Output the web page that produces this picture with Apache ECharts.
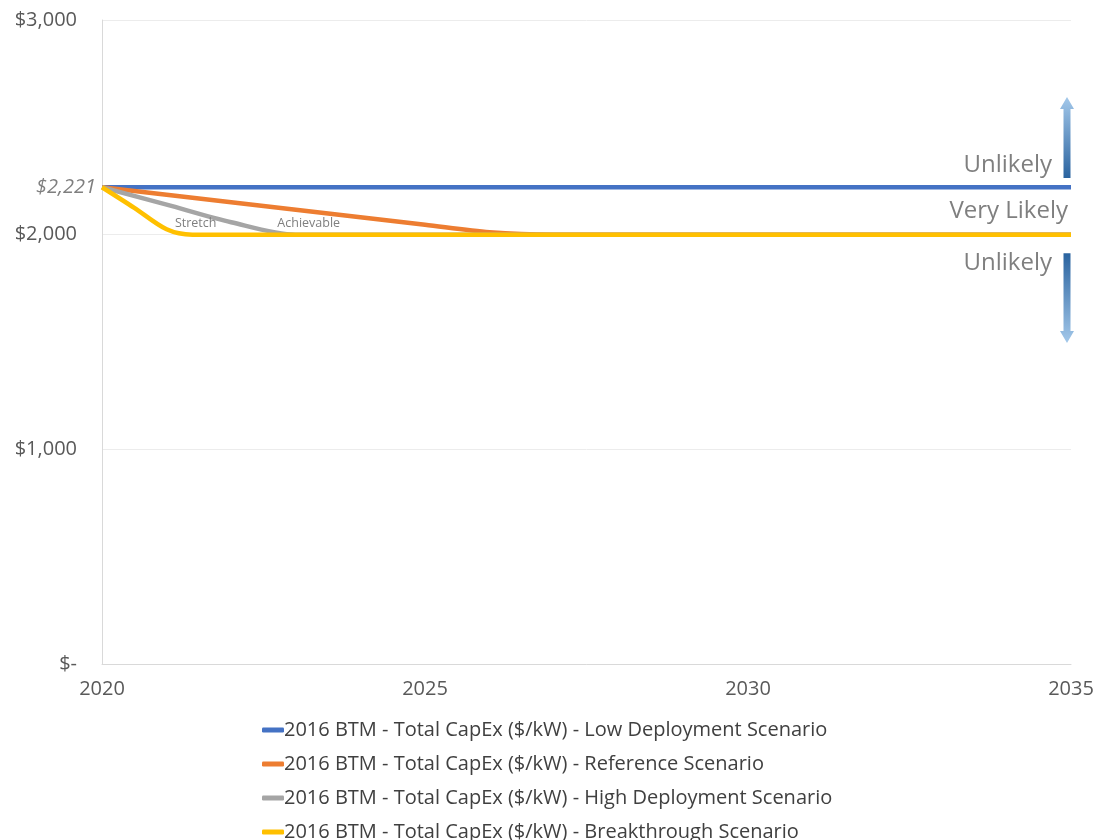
<!DOCTYPE html>
<html lang="en">
<head>
    <meta charset="UTF-8">
    <title>BTM Total CapEx</title>
    <script src="https://cdn.jsdelivr.net/npm/echarts@6/dist/echarts.min.js"></script>
    <style>
        html, body { margin: 0; padding: 0; background: #fff; }
        #chart { width: 1097px; height: 840px; }
    </style>
</head>
<body>
<div id="chart"></div>
<script>
    // 数据：年份与各情景的 CapEx ($/kW)
    var seriesNames = [
        '2016 BTM - Total CapEx ($/kW) - Low Deployment Scenario',
        '2016 BTM - Total CapEx ($/kW) - Reference Scenario',
        '2016 BTM - Total CapEx ($/kW) - High Deployment Scenario',
        '2016 BTM - Total CapEx ($/kW) - Breakthrough Scenario'
    ];
    var colors = ['#4472C4', '#ED7D31', '#A5A5A5', '#FFC000'];

    var lowYears = [2020, 2035];
    var lowValues = [2221, 2221];

    var refYears = [2020, 2021, 2022, 2023, 2024, 2025, 2026, 2027, 2035];
    var refValues = [2221, 2186, 2151, 2116, 2081, 2046, 2011, 2000, 2000];

    var highYears = [2020, 2021, 2022, 2023, 2035];
    var highValues = [2221, 2140, 2058, 2000, 2000];

    var breakYears = [2020, 2020.5, 2021, 2021.4, 2022, 2035];
    var breakValues = [2221, 2125, 2025, 2000, 2000, 2000];

    var startValue = 2221;
    var xTicks = [2020, 2025, 2030, 2035];

    // 注释
    var curveNotes = [
        { text: 'Stretch', x: 2021.45, y: 2052 },
        { text: 'Achievable', x: 2023.2, y: 2052 }
    ];
    var zoneNotes = [
        { text: 'Unlikely', y: 2324, dx: -19 },
        { text: 'Very Likely', y: 2110, dx: -3 },
        { text: 'Unlikely', y: 1868, dx: -19 }
    ];
    var upArrow = [2264, 2641];   // 从 -> 到
    var downArrow = [1914, 1495];

    function pairs(xs, ys) {
        return xs.map(function (x, i) { return [x, ys[i]]; });
    }

    var chart = echarts.init(document.getElementById('chart'));
    var fontFam = '"Open Sans", "Noto Sans", sans-serif';

    function lineSeries(idx, xs, ys, extra) {
        var s = {
            name: seriesNames[idx],
            type: 'line',
            data: pairs(xs, ys),
            smooth: 0.3,
            showSymbol: false,
            symbol: 'none',
            lineStyle: { width: 4.5, color: colors[idx] },
            itemStyle: { color: colors[idx] },
            z: 2 + idx
        };
        for (var k in extra) s[k] = extra[k];
        return s;
    }

    var options = {
        animation: false,
        textStyle: { fontFamily: fontFam },
        grid: { left: 102, right: 26, top: 20, bottom: 176, containLabel: false },
        legend: {
            orient: 'vertical',
            left: 262,
            top: 719,
            height: 130,
            padding: 0,
            itemWidth: 22,
            itemHeight: 5,
            itemGap: 12,
            icon: 'roundRect',
            textStyle: { fontSize: 20, color: '#404040', padding: [0, 0, 0, -5], lineHeight: 22, fontFamily: fontFam },
            data: seriesNames
        },
        xAxis: {
            type: 'value',
            min: 2020,
            max: 2035,
            interval: 5,
            axisLine: { show: true, lineStyle: { color: '#d9d9d9', width: 1 } },
            axisTick: { show: false },
            splitLine: { show: false },
            axisLabel: {
                fontSize: 20,
                color: '#595959',
                margin: 15,
                formatter: function (v) { return xTicks.indexOf(v) >= 0 ? String(v) : ''; }
            }
        },
        yAxis: {
            type: 'value',
            min: 0,
            max: 3000,
            interval: 1000,
            axisLine: { show: true, lineStyle: { color: '#d9d9d9', width: 1 } },
            axisTick: { show: false },
            splitLine: { show: true, lineStyle: { color: '#ececec', width: 1 } },
            axisLabel: {
                fontSize: 20,
                color: '#595959',
                margin: 25,
                formatter: function (v) {
                    return v === 0 ? '$-' : '$' + v.toLocaleString('en-US');
                }
            }
        },
        series: [
            lineSeries(0, lowYears, lowValues, {
                smooth: false,
                markLine: {
                    silent: true,
                    symbol: 'none',
                    lineStyle: { width: 0, color: 'rgba(0,0,0,0)' },
                    label: {
                        show: true,
                        position: 'start',
                        distance: 6,
                        formatter: '$2,221',
                        fontSize: 20,
                        fontStyle: 'italic',
                        color: '#7f7f7f',
                        fontFamily: fontFam
                    },
                    data: [{ yAxis: startValue }]
                }
            }),
            lineSeries(1, refYears, refValues),
            lineSeries(2, highYears, highValues, {
                markPoint: {
                    silent: true,
                    symbol: 'circle',
                    symbolSize: 0,
                    label: {
                        show: true,
                        position: 'inside',
                        fontSize: 12.5,
                        color: '#7f7f7f',
                        fontFamily: fontFam,
                        formatter: function (p) { return p.name; }
                    },
                    data: curveNotes.map(function (n) { return { name: n.text, coord: [n.x, n.y] }; })
                }
            }),
            lineSeries(3, breakYears, breakValues)
        ]
    };

    chart.setOption(options);

    // 右侧注释与箭头
    function arrow(fromV, toV) {
        var xc = chart.convertToPixel({ gridIndex: 0 }, [2035, fromV])[0] - 4;
        var y0 = chart.convertToPixel({ gridIndex: 0 }, [2035, fromV])[1];
        var y1 = chart.convertToPixel({ gridIndex: 0 }, [2035, toV])[1];
        var dir = y1 < y0 ? -1 : 1;
        var headLen = 12, sw = 3.5, hw = 7;
        var yb = y1 - dir * headLen;
        var pts = [
            [xc - sw, y0], [xc - sw, yb], [xc - hw, yb], [xc, y1],
            [xc + hw, yb], [xc + sw, yb], [xc + sw, y0]
        ];
        return {
            type: 'polygon',
            shape: { points: pts },
            style: {
                fill: new echarts.graphic.LinearGradient(0, y0 < y1 ? 0 : 1, 0, y0 < y1 ? 1 : 0, [
                    { offset: 0, color: '#2a639f' },
                    { offset: 1, color: '#a3c8ea' }
                ])
            },
            silent: true
        };
    }

    var xRight = chart.convertToPixel({ gridIndex: 0 }, [2035, 0])[0];
    var graphics = zoneNotes.map(function (n) {
        return {
            type: 'text',
            x: xRight + n.dx,
            y: chart.convertToPixel({ gridIndex: 0 }, [2035, n.y])[1],
            style: {
                text: n.text,
                fontSize: 24,
                fill: '#7f7f7f',
                fontFamily: fontFam,
                align: 'right',
                verticalAlign: 'middle'
            },
            silent: true
        };
    });
    graphics.push(arrow(upArrow[0], upArrow[1]));
    graphics.push(arrow(downArrow[0], downArrow[1]));
    chart.setOption({ graphic: graphics });
</script>
</body>
</html>
